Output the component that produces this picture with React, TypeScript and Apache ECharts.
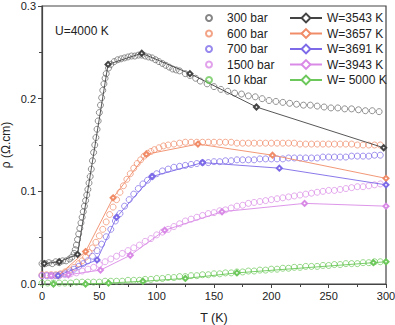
import React, { useEffect, useRef } from "react";
import * as echarts from "echarts";

const xTicks = [0, 50, 100, 150, 200, 250, 300];
const yTicks = [0, 0.1, 0.2, 0.3];

const circleNames = ["300 bar", "600 bar", "700 bar", "1500 bar", "10 kbar"];
const lineNames = ["W=3543 K", "W=3657 K", "W=3691 K", "W=3943 K", "W= 5000 K"];
const colors = ["#666666", "#f08c68", "#7c6ae8", "#d98ae6", "#6cc85a"];

// 300 bar
const t300 = [0,3,6,9,12,15,18,21,24,26,28,29,30,31,32,33,34,35,36,37,38,39,40,41,42,43,44,45,46,47,48,49,50,51,52,53,54,55,56,58,60,63,66,69,72,75,78,81,84,87,90,93,96,99,102,105,108,111,114,117,120,125,129,134,138,144,150,156,162,168,174,180,186,192,198,204,210,216,222,228,234,240,246,252,258,264,270,276,282,288,294];
const r300 = [0.022,0.022,0.023,0.022,0.024,0.023,0.025,0.025,0.027,0.029,0.033,0.037,0.042,0.048,0.054,0.06,0.066,0.072,0.078,0.084,0.09,0.096,0.102,0.109,0.116,0.124,0.133,0.142,0.15,0.158,0.167,0.176,0.185,0.193,0.201,0.209,0.216,0.222,0.227,0.233,0.237,0.24,0.242,0.243,0.244,0.245,0.246,0.246,0.247,0.247,0.246,0.245,0.244,0.242,0.24,0.238,0.236,0.234,0.232,0.231,0.23,0.227,0.225,0.222,0.219,0.216,0.213,0.21,0.208,0.206,0.205,0.203,0.202,0.2,0.198,0.197,0.196,0.195,0.194,0.193,0.193,0.192,0.191,0.19,0.19,0.189,0.189,0.188,0.187,0.187,0.186];

// 600 bar
const t600 = [0,4,8,12,16,20,24,28,32,35,38,41,44,47,50,53,56,59,62,65,68,71,74,77,80,83,86,89,92,95,98,102,106,110,115,120,125,130,135,140,145,150,155,160,165,170,175,180,185,190,195,200,205,210,215,220,225,230,235,240,245,250,255,260,265,270,275,280,285,290,295];
const r600 = [0.01,0.01,0.01,0.01,0.011,0.013,0.015,0.018,0.022,0.025,0.029,0.034,0.039,0.045,0.052,0.059,0.067,0.075,0.083,0.091,0.099,0.106,0.113,0.119,0.125,0.13,0.134,0.138,0.141,0.143,0.145,0.147,0.149,0.15,0.151,0.152,0.153,0.153,0.153,0.153,0.153,0.153,0.153,0.153,0.153,0.152,0.152,0.152,0.152,0.152,0.152,0.152,0.152,0.152,0.152,0.152,0.151,0.151,0.151,0.151,0.151,0.151,0.151,0.151,0.151,0.151,0.15,0.15,0.15,0.15,0.15];

// 700 bar
const t700 = [0,4,8,12,16,20,24,28,32,36,40,44,48,52,56,60,64,68,72,76,80,84,88,92,96,100,105,110,115,120,125,130,135,140,145,150,155,160,165,170,175,180,185,190,195,200,205,210,215,220,225,230,235,240,245,250,255,260,265,270,275,280,285,290,295];
const r700 = [0.009,0.009,0.009,0.009,0.01,0.011,0.013,0.016,0.019,0.022,0.025,0.03,0.036,0.043,0.051,0.059,0.068,0.076,0.084,0.091,0.097,0.103,0.108,0.112,0.116,0.119,0.122,0.124,0.126,0.127,0.128,0.129,0.13,0.131,0.131,0.132,0.132,0.133,0.133,0.134,0.134,0.134,0.134,0.135,0.135,0.135,0.135,0.135,0.136,0.136,0.136,0.136,0.136,0.136,0.137,0.137,0.137,0.137,0.137,0.138,0.138,0.138,0.138,0.139,0.139];

// 1500 bar
const t1500 = [0,5,10,15,20,25,30,35,40,45,50,55,60,65,70,75,80,85,90,95,100,105,110,115,120,125,130,135,140,145,150,155,160,165,170,175,180,185,190,195,200,205,210,215,220,225,230,235,240,245,250,255,260,265,270,275,280,285,290,295];
const r1500 = [0.009,0.009,0.009,0.009,0.01,0.011,0.012,0.014,0.016,0.018,0.021,0.024,0.027,0.03,0.033,0.036,0.039,0.042,0.046,0.049,0.053,0.056,0.059,0.062,0.065,0.068,0.07,0.072,0.074,0.076,0.077,0.079,0.08,0.082,0.084,0.085,0.087,0.088,0.089,0.09,0.091,0.092,0.093,0.094,0.095,0.096,0.097,0.098,0.099,0.1,0.101,0.101,0.102,0.103,0.104,0.105,0.105,0.106,0.107,0.108];

// 10 kbar
const t10k = [0,5,10,15,20,25,30,35,40,45,50,55,60,65,70,75,80,85,90,95,100,105,110,115,120,125,130,135,140,145,150,155,160,165,170,175,180,185,190,195,200,205,210,215,220,225,230,235,240,245,250,255,260,265,270,275,280,285,290,295];
const r10k = [0.001,0.001,0.001,0.001,0.001,0.001,0.002,0.002,0.002,0.002,0.002,0.003,0.003,0.003,0.003,0.004,0.004,0.004,0.005,0.005,0.006,0.006,0.007,0.007,0.008,0.008,0.009,0.009,0.01,0.01,0.011,0.011,0.012,0.012,0.013,0.013,0.014,0.014,0.015,0.015,0.016,0.016,0.017,0.017,0.018,0.018,0.019,0.019,0.019,0.02,0.02,0.021,0.021,0.022,0.022,0.022,0.023,0.023,0.024,0.024];

// model curves
const tW3543 = [2, 15, 31, 57.6, 87, 129, 187, 298];
const rW3543 = [0.022, 0.024, 0.032, 0.237, 0.249, 0.227, 0.191, 0.147];
const tW3657 = [14, 38, 62, 91, 136, 201, 300];
const rW3657 = [0.009, 0.035, 0.093, 0.14, 0.151, 0.139, 0.114];
const tW3691 = [14, 48, 65, 96, 140, 207, 300];
const rW3691 = [0.009, 0.026, 0.072, 0.116, 0.131, 0.125, 0.107];
const tW3943 = [8, 23, 51, 77, 107, 157, 229, 300];
const rW3943 = [0.009, 0.01, 0.015, 0.031, 0.058, 0.078, 0.087, 0.084];
const tW5000 = [10, 38, 58, 88, 125, 170, 289, 300];
const rW5000 = [0.0, 0.0, 0.001, 0.003, 0.006, 0.012, 0.023, 0.024];

const circleT = [t300, t600, t700, t1500, t10k];
const circleR = [r300, r600, r700, r1500, r10k];
const lineT = [tW3543, tW3657, tW3691, tW3943, tW5000];
const lineR = [rW3543, rW3657, rW3691, rW3943, rW5000];

const FONT = "Liberation Sans";

export default function App() {
  const ref = useRef<HTMLDivElement>(null);
  useEffect(() => {
    if (!ref.current) return;
    const chart = echarts.init(ref.current, null, { renderer: "svg" });
    const zip = (t: number[], r: number[]) => t.map((v, i) => [v, r[i]]);
    const scatterSeries = circleNames.map((name, i) => ({
      name,
      type: "scatter",
      data: zip(circleT[i], circleR[i]),
      symbol: "circle",
      symbolSize: 6,
      itemStyle: { color: "rgba(255,255,255,0)", borderColor: colors[i], borderWidth: 0.9 },
      z: 2,
    }));
    const lineSeries = lineNames.map((name, i) => ({
      name,
      type: "line",
      data: zip(lineT[i], lineR[i]),
      symbol: "emptyDiamond",
      symbolSize: 5,
      showAllSymbol: true,
      lineStyle: { color: i === 0 ? "#444" : colors[i], width: 0.9 },
      itemStyle: { color: i === 0 ? "#444" : colors[i], borderWidth: 0.9 },
      z: 3,
    }));
    chart.setOption({
      animation: false,
      textStyle: { fontFamily: FONT },
      grid: {
        left: 42, right: 9, top: 6, bottom: 41,
        outerBoundsMode: "none", containLabel: false,
        show: true, borderColor: "#444", borderWidth: 1.2,
      },
      xAxis: {
        type: "value",
        min: 0,
        max: 300,
        interval: 50,
        name: "T (K)",
        nameLocation: "middle",
        nameGap: 27,
        nameMoveOverlap: false,
        nameTextStyle: { fontSize: 12.5, color: "#222", fontFamily: FONT },
        axisLine: { lineStyle: { color: "#444", width: 1.2 } },
        axisTick: { length: 4, lineStyle: { color: "#444" } },
        minorTick: { show: true, splitNumber: 2, length: 3, lineStyle: { color: "#444" } },
        axisLabel: { fontSize: 11, color: "#222", margin: 6, fontFamily: FONT },
        splitLine: { show: false },
      },
      yAxis: {
        type: "value",
        min: 0,
        max: 0.3,
        interval: 0.1,
        name: "ρ (Ω.cm)",
        nameLocation: "middle",
        nameGap: 30,
        nameMoveOverlap: false,
        nameTextStyle: { fontSize: 12, color: "#222", fontFamily: FONT },
        axisLine: { show: true, lineStyle: { color: "#444", width: 1.2 } },
        axisTick: { show: true, length: 4, lineStyle: { color: "#444" } },
        minorTick: { show: true, splitNumber: 2, length: 3, lineStyle: { color: "#444" } },
        axisLabel: { fontSize: 11, color: "#222", margin: 6, fontFamily: FONT, formatter: (v: number) => v.toFixed(1) },
        splitLine: { show: false },
      },
      legend: [
        {
          data: circleNames,
          orient: "vertical",
          left: 200,
          top: 7,
          itemWidth: 26,
          itemHeight: 6,
          itemGap: 3.5,
          textStyle: { fontSize: 12, color: "#222", lineHeight: 12, fontFamily: FONT },
        },
        {
          data: lineNames,
          orient: "vertical",
          left: 284,
          top: 7,
          itemWidth: 32,
          itemHeight: 11,
          itemGap: 3.5,
          textStyle: { fontSize: 12, color: "#222", lineHeight: 12, fontFamily: FONT },
        },
      ],
      graphic: [
        {
          type: "text",
          left: 55,
          top: 25,
          style: { text: "U=4000 K", fontSize: 12, fill: "#222", fontFamily: FONT },
        },
      ],
      series: [...scatterSeries, ...lineSeries],
    });
    return () => chart.dispose();
  }, []);
  return <div ref={ref} style={{ width: 395, height: 325, position: "absolute", left: 0, top: 0 }} />;
}
